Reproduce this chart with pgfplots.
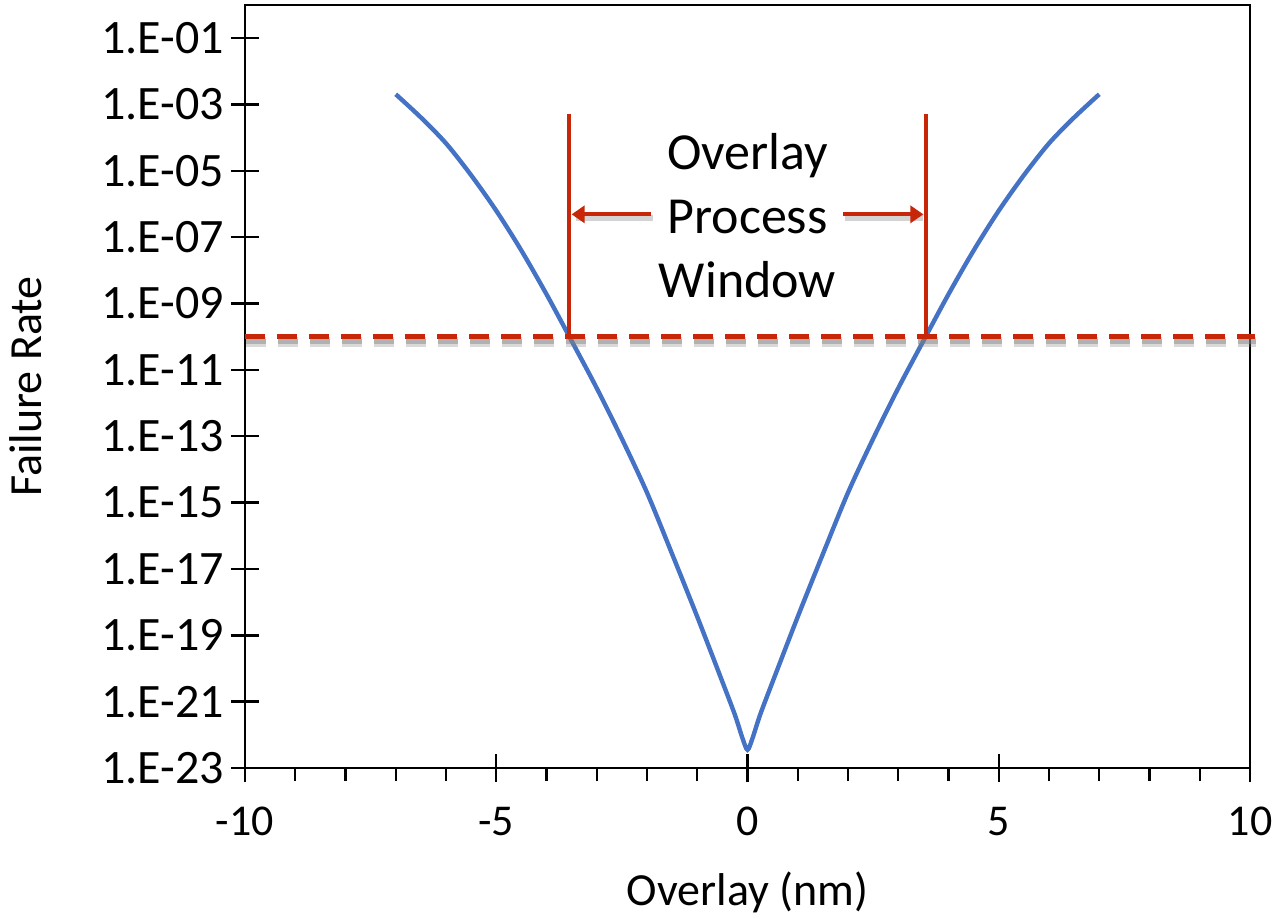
\documentclass[border=0pt]{standalone}
\usepackage{pgfplots}
\pgfplotsset{compat=1.18}
\usepackage{fontspec}
\setmainfont{Carlito}
\usetikzlibrary{arrows.meta}
\definecolor{lblue}{RGB}{68,114,196}
\definecolor{dred}{RGB}{200,38,8}
\pgfplotstableread{
x y
-7.0 2.04e-3
-6.5 4.07e-4
-6.0 6.76e-5
-5.5 7.41e-6
-5.0 6.31e-7
-4.5 3.98e-8
-4.0 1.91e-9
-3.5 7.50e-11
-3.0 2.82e-12
-2.5 8.41e-14
-2.0 2.00e-15
-1.5 2.82e-17
-1.0 3.63e-19
-0.5 3.98e-21
-0.25 3.98e-22
-0.1 7.94e-23
0.0 3.55e-23
0.1 7.94e-23
0.25 3.98e-22
0.5 3.98e-21
1.0 3.63e-19
1.5 2.82e-17
2.0 2.00e-15
2.5 8.41e-14
3.0 2.82e-12
3.5 7.50e-11
4.0 1.91e-9
4.5 3.98e-8
5.0 6.31e-7
5.5 7.41e-6
6.0 6.76e-5
6.5 4.07e-4
7.0 2.04e-3
}\curvedata
\begin{document}
\begin{tikzpicture}
\path[use as bounding box] (-122.5pt,-75pt) rectangle (517pt,384pt);
\begin{axis}[
  scale only axis, width=502.5pt, height=381.5pt,
  xmin=-10, xmax=10, ymin=1e-23, ymax=1, ymode=log,
  axis line style={line width=1.2pt},
  tick style={black, line width=1.2pt},
  tick align=center, major tick length=14pt, minor tick length=6.5pt,
  minor x tick style={yshift=-3.25pt},
  xtick={-10,-5,0,5,10}, xticklabels={-10,-5,0,5,10},
  minor xtick={-9,-8,-7,-6,-4,-3,-2,-1,1,2,3,4,6,7,8,9},
  ytick={1e-23,1e-21,1e-19,1e-17,1e-15,1e-13,1e-11,1e-9,1e-7,1e-5,1e-3,1e-1},
  yticklabels={1.E-23,1.E-21,1.E-19,1.E-17,1.E-15,1.E-13,1.E-11,1.E-09,1.E-07,1.E-05,1.E-03,1.E-01},
  xtick pos=bottom, ytick pos=left,
  xticklabel style={font=\fontsize{22pt}{26pt}\selectfont, yshift=-9pt},
  yticklabel style={font=\fontsize{24pt}{28pt}\selectfont},
  xlabel={Overlay (nm)}, ylabel={Failure Rate},
  label style={font=\fontsize{23pt}{27pt}\selectfont},
  xlabel style={at={(axis description cs:0.5,0)}, anchor=base, yshift=-68.5pt},
  ylabel style={at={(axis description cs:-0.218,0.5)}, anchor=center},
  clip=false,
]
\addplot[lblue, line width=2.2pt, smooth, tension=0.5] table[x=x,y=y] {\curvedata};
% shadows
\draw[gray, opacity=0.3, line width=5pt, dash pattern=on 10pt off 6pt, yshift=-2.5pt, xshift=0.5pt] (axis cs:-10,1e-10) -- (axis cs:10.1,1e-10);
\draw[gray, opacity=0.45, line width=2.5pt, dash pattern=on 10pt off 6pt, yshift=-2.5pt, xshift=0.5pt] (axis cs:-10,1e-10) -- (axis cs:10.1,1e-10);
\draw[gray, opacity=0.35, line width=3pt, yshift=-2pt, xshift=1pt] (axis cs:-1.93,4.9e-7) -- (axis cs:-3.45,4.9e-7);
\draw[gray, opacity=0.35, line width=3pt, yshift=-2pt, xshift=1pt] (axis cs:1.91,4.9e-7) -- (axis cs:3.45,4.9e-7);
% red
\draw[dred, line width=2.5pt, dash pattern=on 10pt off 6pt] (axis cs:-10,1e-10) -- (axis cs:10.1,1e-10);
\draw[dred, line width=2pt] (axis cs:-3.55,5.1e-4) -- (axis cs:-3.55,1e-10);
\draw[dred, line width=2pt] (axis cs:3.55,5.1e-4) -- (axis cs:3.55,1e-10);
\draw[dred, line width=2pt, -{Triangle[length=6.5pt,width=8.5pt]}] (axis cs:-1.93,4.9e-7) -- (axis cs:-3.5,4.9e-7);
\draw[dred, line width=2pt, -{Triangle[length=6.5pt,width=8.5pt]}] (axis cs:1.91,4.9e-7) -- (axis cs:3.5,4.9e-7);
\node[align=center, font=\fontsize{26pt}{32pt}\selectfont, anchor=center] at (axis cs:0,4.57e-7) {Overlay\\Process\\Window};
\end{axis}
\end{tikzpicture}
\end{document}
